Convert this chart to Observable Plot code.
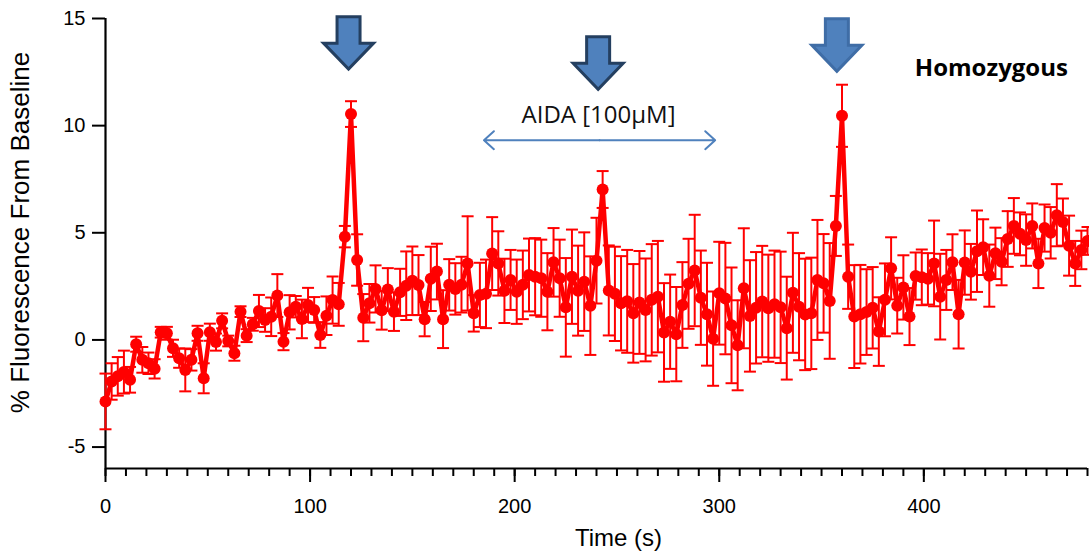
<!DOCTYPE html>
<html><head><meta charset="utf-8">
<script src="https://cdn.jsdelivr.net/npm/d3@7"></script>
<script src="https://cdn.jsdelivr.net/npm/@observablehq/plot@0.6"></script>
<style>body{margin:0;background:#fff}</style>
</head><body><div id="chart"></div>
<script>
const times = [0,3,6,9,12,15,18,21,24,27,30,33,36,39,42,45,48,51,54,57,60,63,66,69,72,75,78,81,84,87,
90,93,96,99,102,105,108,111,114,117,120,123,126,129,132,135,138,141,144,147,150,153,156,159,162,165,168,171,174,177,
180,183,186,189,192,195,198,201,204,207,210,213,216,219,222,225,228,231,234,237,240,243,246,249,252,255,258,261,264,267,
270,273,276,279,282,285,288,291,294,297,300,303,306,309,312,315,318,321,324,327,330,333,336,339,342,345,348,351,354,357,
360,363,366,369,372,375,378,381,384,387,390,393,396,399,402,405,408,411,414,417,420,423,426,429,432,435,438,441,444,447,
450,453,456,459,462,465,468,471,474,477,480];
const values = [-2.87,-1.94,-1.70,-1.50,-1.86,-0.20,-0.93,-1.09,-1.35,0.36,
0.31,-0.39,-0.85,-1.40,-0.93,0.31,-1.79,0.36,-0.10,0.89,
-0.05,-0.62,1.32,0.20,0.73,1.35,0.93,1.08,2.07,-0.08,
1.29,1.55,0.98,1.63,1.40,0.23,1.13,1.86,1.66,4.82,
10.54,3.73,1.04,1.71,2.38,1.38,2.35,1.32,2.22,2.53,
2.76,2.56,0.97,2.85,3.19,0.97,2.57,2.38,2.58,3.57,
1.24,2.10,2.15,4.03,3.57,2.29,2.80,2.25,2.57,3.03,
2.95,2.88,2.25,3.62,2.88,1.52,2.95,2.30,2.72,1.60,
3.70,7.02,2.31,2.15,1.71,1.80,1.24,1.75,1.40,1.87,
2.02,0.35,0.85,0.27,1.63,2.62,3.24,1.97,1.20,0.06,
2.18,1.93,0.68,-0.25,2.41,1.12,1.50,1.79,1.48,1.67,
1.52,0.55,2.20,1.55,1.19,1.24,2.80,2.64,1.82,5.32,
10.46,2.95,1.09,1.20,1.30,1.50,0.39,1.87,3.34,1.60,
2.45,1.09,2.98,2.92,2.85,3.57,2.02,2.80,3.63,1.20,
3.61,3.18,4.14,4.33,3.00,4.04,3.65,4.71,5.32,4.95,
4.66,5.32,3.57,5.22,5.00,5.82,5.50,4.40,3.57,4.20,
4.62];
const errors = [1.3,0.85,0.9,1.0,0.6,0.35,0.6,0.5,0.45,0.25,
0.3,0.4,0.45,1.0,0.5,0.35,0.7,0.4,0.4,0.35,
0.25,0.35,0.25,0.3,0.3,0.75,0.55,0.9,1.0,0.4,
0.8,0.5,0.9,0.8,0.6,0.6,0.9,1.1,1.0,0.5,
0.6,1.2,1.1,0.9,1.1,0.9,1.0,0.9,1.1,1.6,
1.6,1.4,0.8,1.5,1.3,1.35,1.2,1.2,1.3,2.2,
0.85,1.5,1.6,1.7,1.5,1.5,1.4,1.5,1.6,1.7,
1.8,1.8,1.8,1.6,1.8,2.3,2.2,2.1,2.3,2.3,
2.0,0.86,2.1,2.2,2.2,2.4,2.3,2.4,2.4,2.6,
2.6,2.3,2.2,2.2,2.0,2.1,2.6,2.2,2.4,2.2,
2.4,2.6,2.7,2.1,2.8,2.6,2.6,2.6,2.5,2.5,
2.6,2.4,2.8,2.5,2.6,2.6,2.8,2.3,2.7,1.4,
1.45,1.5,2.4,2.3,2.0,1.9,1.6,1.7,1.45,1.3,
1.5,1.33,1.1,1.3,1.2,2.0,2.0,1.4,1.3,1.6,
1.5,1.3,1.9,1.3,1.45,1.2,1.1,1.3,1.3,1.0,
1.2,1.05,1.15,1.1,1.2,1.45,1.1,1.4,1.05,0.9,
0.65];
const xTicks = [0,100,200,300,400];
const yTicks = [-5,0,5,10,15];
const arrowTimes = [118.8, 240.8, 357.5];
const arrowLevels = [13.85, 12.91, 13.75];
const arrowStrokes = ["#243F60","#243F60","#3F6DA6"];
const aidaStart = 185, aidaEnd = 298, aidaLevel = 9.32;
const aidaLabel = "AIDA [100μM]";
const aidaLabelPos = [241, 10.5];
const groupLabel = "Homozygous";
const groupLabelPos = [433, 12.68];
const xLabel = "Time (s)";
const yLabel = "% Fluorescence From Baseline";

const data = times.map((t, i) => ({t, v: values[i], lo: values[i] - errors[i], hi: values[i] + errors[i]}));
const arrows = arrowTimes.map((t, i) => ({t, v: arrowLevels[i], s: arrowStrokes[i]}));
const aidaMid = (aidaStart + aidaEnd) / 2;

const blockArrow = {draw(ctx) {
  ctx.moveTo(-11.5, -26.5); ctx.lineTo(11.5, -26.5); ctx.lineTo(11.5, 0); ctx.lineTo(25, 0);
  ctx.lineTo(0, 26); ctx.lineTo(-25, 0); ctx.lineTo(-11.5, 0); ctx.closePath();
}};
const capSym = {draw(ctx) { ctx.moveTo(-6, 0); ctx.lineTo(6, 0); }};
const red = "#FF0000";

const chart = Plot.plot({
  width: 1089, height: 552,
  marginLeft: 105, marginRight: 2, marginTop: 18, marginBottom: 84,
  style: {fontFamily: "'Liberation Sans', Arial, sans-serif", fontSize: "20px", color: "#000", background: "#fff"},
  x: {domain: [0, 480]},
  y: {domain: [-6, 15]},
  color: {type: "identity"},
  marks: [
    Plot.axisX({ticks: d3.range(0, 481, 10), tickSize: 8, tickFormat: () => "", strokeWidth: 2, label: null}),
    Plot.axisX({ticks: xTicks, tickSize: 14, tickPadding: 16, strokeWidth: 2, label: null, fontSize: 20}),
    Plot.axisY({ticks: yTicks, tickSize: 13, tickPadding: 7, strokeWidth: 2, label: null, fontSize: 20, tickFormat: d => String(d)}),
    Plot.ruleX([0], {y1: -6, y2: 15, strokeWidth: 2.2}),
    Plot.ruleY([-6], {strokeWidth: 2.2}),
    Plot.ruleX(data, {x: "t", y1: "lo", y2: "hi", stroke: red, strokeWidth: 2}),
    Plot.dot(data, {x: "t", y: "hi", symbol: capSym, stroke: red, strokeWidth: 2}),
    Plot.dot(data, {x: "t", y: "lo", symbol: capSym, stroke: red, strokeWidth: 2}),
    Plot.line(data, {x: "t", y: "v", stroke: red, strokeWidth: 4.5}),
    Plot.dot(data, {x: "t", y: "v", r: 6, fill: red}),
    Plot.dot(arrows, {x: "t", y: "v", symbol: blockArrow, fill: "#4F81BD", stroke: "s", strokeWidth: 3, strokeLinejoin: "miter"}),
    Plot.arrow([{a: aidaMid, b: aidaStart}, {a: aidaMid, b: aidaEnd}], {x1: "a", x2: "b", y1: aidaLevel, y2: aidaLevel, stroke: "#4F81BD", strokeWidth: 2, headLength: 10, headAngle: 84}),
    Plot.text([aidaLabel], {x: aidaLabelPos[0], y: aidaLabelPos[1], text: d => d, fontFamily: "'Open Sans', sans-serif", fontSize: 24, fill: "#111"}),
    Plot.text([groupLabel], {x: groupLabelPos[0], y: groupLabelPos[1], text: d => d, fontFamily: "'Open Sans', sans-serif", fontWeight: "bold", fontSize: 24, fill: "#000"}),
    Plot.text([yLabel], {frameAnchor: "left", rotate: -90, dx: -85, dy: -11, textAnchor: "middle", lineAnchor: "middle", text: d => d, fontSize: 26}),
    Plot.text([xLabel], {frameAnchor: "bottom", dx: 22, dy: 70, textAnchor: "middle", lineAnchor: "middle", text: d => d, fontSize: 24})
  ]
});
document.getElementById("chart").appendChild(chart);
</script>
</body></html>
